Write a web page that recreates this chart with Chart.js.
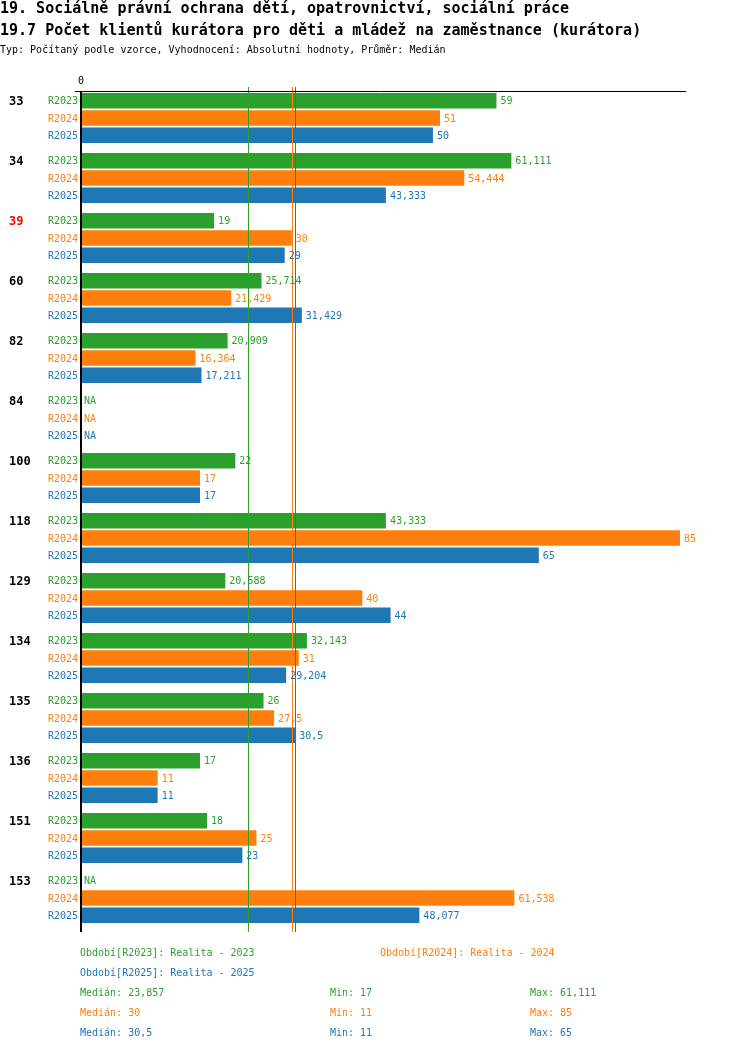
<!DOCTYPE html>
<html>
<head>
<meta charset="utf-8">
<script src="https://cdn.jsdelivr.net/npm/chart.js@4/dist/chart.umd.min.js"></script>
<style>
  html, body { margin: 0; padding: 0; background: #fff; }
  #wrap { position: relative; width: 750px; height: 1052px; overflow: hidden; font-family: "DejaVu Sans Mono", monospace; }
  #c { position: absolute; left: 0; top: 0; }
  .t { position: absolute; white-space: pre; line-height: 1; }
  .h { font-size: 15px; font-weight: bold; color: #000; left: 0; }
  .s { font-size: 10px; color: #000; left: 0; }
  .l { font-size: 10px; }
</style>
</head>
<body>
<div id="wrap">
  <canvas id="c" width="750" height="1052"></canvas>
  <div class="t h" style="top:1px">19. Sociálně právní ochrana dětí, opatrovnictví, sociální práce</div>
  <div class="t h" style="top:23px">19.7 Počet klientů kurátora pro děti a mládež na zaměstnance (kurátora)</div>
  <div class="t s" style="top:45px">Typ: Počítaný podle vzorce, Vyhodnocení: Absolutní hodnoty, Průměr: Medián</div>
  <div id="legend"></div>
</div>
<script>
const categories = ["33","34","39","60","82","84","100","118","129","134","135","136","151","153"];
const highlighted = ["39"];
const seriesNames = ["R2023","R2024","R2025"];
const seriesLabels = ["Období[R2023]: Realita - 2023","Období[R2024]: Realita - 2024","Období[R2025]: Realita - 2025"];
const seriesColors = ["#2ca02c","#ff7f0e","#1f77b4"];
const r2023 = [59, 61.111, 19, 25.714, 20.909, null, 22, 43.333, 20.588, 32.143, 26, 17, 18, null];
const r2024 = [51, 54.444, 30, 21.429, 16.364, null, 17, 85, 40, 31, 27.5, 11, 25, 61.538];
const r2025 = [50, 43.333, 29, 31.429, 17.211, null, 17, 65, 44, 29.204, 30.5, 11, 23, 48.077];
const xTicks = [0];
const seriesData = [r2023, r2024, r2025];

function fmt(v) { return String(Math.round(v * 1000) / 1000).replace('.', ','); }
function median(a) {
  const s = a.filter(v => v !== null).sort((x, y) => x - y);
  const n = s.length;
  return n % 2 ? s[(n - 1) / 2] : (s[n / 2 - 1] + s[n / 2]) / 2;
}
const stats = seriesData.map(d => {
  const f = d.filter(v => v !== null);
  return { med: median(d), min: Math.min(...f), max: Math.max(...f) };
});

// legend (HTML text)
const lg = document.getElementById('legend');
function addText(txt, x, y, color) {
  const e = document.createElement('div');
  e.className = 't l';
  e.style.left = x + 'px'; e.style.top = y + 'px'; e.style.color = color;
  e.textContent = txt;
  lg.appendChild(e);
}
addText(seriesLabels[0], 80, 948, seriesColors[0]);
addText(seriesLabels[1], 380, 948, seriesColors[1]);
addText(seriesLabels[2], 80, 968, seriesColors[2]);
stats.forEach((s, i) => {
  const y = 988 + i * 20;
  addText('Medián: ' + fmt(s.med), 80, y, seriesColors[i]);
  addText('Min: ' + fmt(s.min), 330, y, seriesColors[i]);
  addText('Max: ' + fmt(s.max), 530, y, seriesColors[i]);
});

const FONT = '"DejaVu Sans Mono", monospace';

const overlay = {
  id: 'overlay',
  afterDatasetsDraw(chart) {
    const ctx = chart.ctx;
    const xs = chart.scales.x, ys = chart.scales.y;
    const area = chart.chartArea;
    ctx.save();
    // median lines
    stats.forEach((s, i) => {
      const x = Math.round(xs.getPixelForValue(s.med)) + 0.5;
      ctx.strokeStyle = seriesColors[i];
      ctx.lineWidth = 1;
      ctx.beginPath();
      ctx.moveTo(x, area.top - 1);
      ctx.lineTo(x, area.bottom + 4);
      ctx.stroke();
    });
    // axes
    const x0 = xs.getPixelForValue(0);
    ctx.strokeStyle = '#000';
    ctx.lineWidth = 1;
    ctx.beginPath();
    ctx.moveTo(x0 - 5, area.top + 3.5);
    ctx.lineTo(area.right + 6, area.top + 3.5);
    ctx.stroke();
    ctx.lineWidth = 2;
    ctx.beginPath();
    ctx.moveTo(x0 + 1, area.top + 3);
    ctx.lineTo(x0 + 1, area.bottom + 4);
    ctx.stroke();
    // x tick labels
    ctx.fillStyle = '#000';
    ctx.font = '10px ' + FONT;
    ctx.textAlign = 'center';
    ctx.textBaseline = 'middle';
    xTicks.forEach(t => ctx.fillText(String(t), xs.getPixelForValue(t) + 1, area.top - 7));
    // per-bar labels
    seriesData.forEach((d, si) => {
      const meta = chart.getDatasetMeta(si);
      categories.forEach((c, ci) => {
        const el = meta.data[ci];
        // compute bar centre via scale + ruler position
        const yc = el.y;
        ctx.fillStyle = seriesColors[si];
        ctx.font = '10px ' + FONT;
        ctx.textBaseline = 'middle';
        ctx.textAlign = 'right';
        ctx.fillText(seriesNames[si], x0 - 2, yc + 1);
        ctx.textAlign = 'left';
        const v = d[ci];
        if (v === null) {
          ctx.fillText('NA', x0 + 4, yc + 1);
        } else {
          ctx.fillText(fmt(v), xs.getPixelForValue(v) + 4, yc + 1);
        }
        if (si === 0) {
          ctx.font = 'bold 12px ' + FONT;
          ctx.fillStyle = highlighted.includes(c) ? '#ff0000' : '#000';
          ctx.textAlign = 'left';
          ctx.fillText(c, 9, yc + 1);
        }
      });
    });
    ctx.restore();
  }
};

new Chart(document.getElementById('c'), {
  type: 'bar',
  data: {
    labels: categories,
    datasets: seriesData.map((d, i) => ({
      label: seriesNames[i],
      data: d,
      backgroundColor: seriesColors[i],
      borderWidth: 0,
      categoryPercentage: 0.867,
      barPercentage: 0.894
    }))
  },
  options: {
    indexAxis: 'y',
    responsive: false,
    animation: false,
    devicePixelRatio: 1,
    layout: { padding: { left: 80, right: 70, top: 88, bottom: 124 } },
    plugins: { legend: { display: false }, tooltip: { enabled: false }, title: { display: false } },
    scales: {
      x: { type: 'linear', min: 0, max: 85, display: false },
      y: { type: 'category', display: false, offset: true }
    }
  },
  plugins: [overlay]
});
</script>
</body>
</html>
